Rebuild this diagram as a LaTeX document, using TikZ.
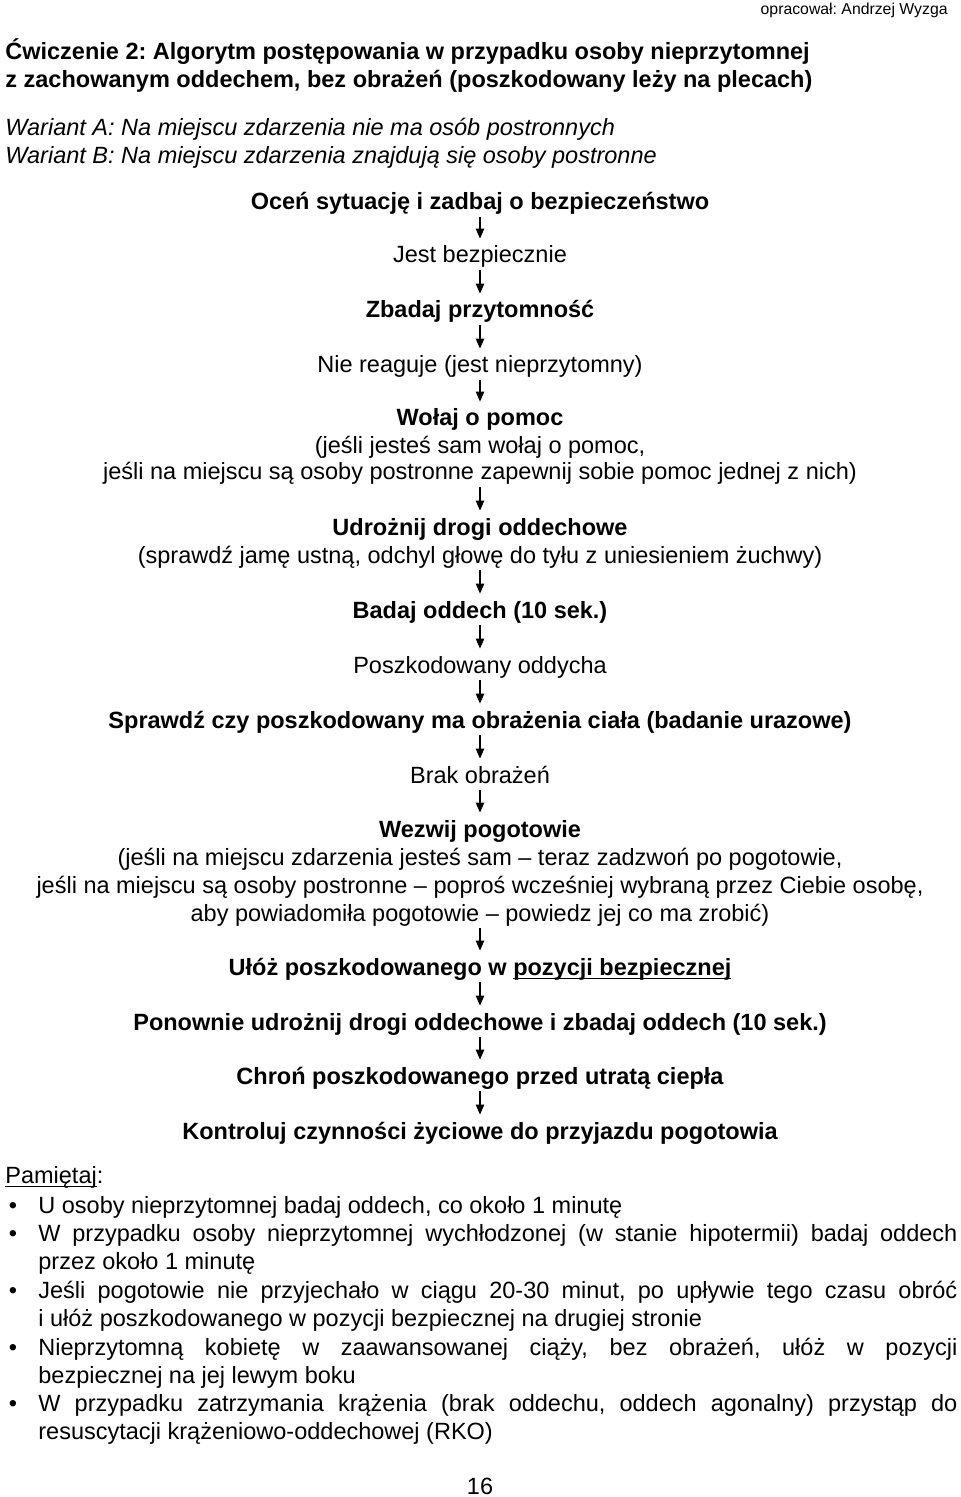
\documentclass[tikz,border=0pt]{standalone}
\usepackage{fontspec}
\setmainfont{Liberation Sans}
\usetikzlibrary{arrows.meta}
\hyphenpenalty=10000
\exhyphenpenalty=10000
\frenchspacing
\newcommand{\fsmain}{\fontsize{11.75pt}{14pt}\selectfont}
\newcommand{\fssmall}{\fontsize{7.9pt}{9.5pt}\selectfont}
\newcommand{\myul}[1]{\setbox0\hbox{#1}\rlap{\rule[-2.1pt]{\wd0}{0.6pt}}\box0}
\begin{document}
\begin{tikzpicture}[x=0.5pt,y=-0.5pt,
  every node/.style={inner sep=0pt, font=\fsmain},
  t/.style={anchor=base, text height=8.5pt, text depth=2pt},
  tb/.style={t, font=\fsmain\bfseries},
  lft/.style={anchor=base west},
  para/.style={anchor=north west, text width=459.5pt, align=justify},
  dot/.style={anchor=base},
  arr/.style={-{Triangle[length=5pt,width=4.2pt]}, line width=0.6pt, shorten <=1.5pt, shorten >=3.5pt}
]
\useasboundingbox[fill=white] (0,0) rectangle (960,1497);

% header
\node[anchor=base east, font=\fssmall] (auth) at (948,15) {opracował: Andrzej Wyzga};
\node[lft, font=\fsmain\bfseries] (ti1) at (5,60) {Ćwiczenie 2: Algorytm postępowania w przypadku osoby nieprzytomnej};
\node[lft, font=\fsmain\bfseries] (ti2) at (5,88) {z zachowanym oddechem, bez obrażeń (poszkodowany leży na plecach)};
\node[lft, font=\fsmain\itshape] (wa) at (5,136) {Wariant A: Na miejscu zdarzenia nie ma osób postronnych};
\node[lft, font=\fsmain\itshape] (wb) at (5,164) {Wariant B: Na miejscu zdarzenia znajdują się osoby postronne};

% flow
\node[tb] (n1) at (480,210) {Oceń sytuację i zadbaj o bezpieczeństwo};
\node[t]  (n2) at (480,263) {Jest bezpiecznie};
\node[tb] (n3) at (480,318) {Zbadaj przytomność};
\node[t]  (n4) at (480,373) {Nie reaguje (jest nieprzytomny)};
\node[tb] (n5) at (480,426) {Wołaj o pomoc};
\node[t]  (n5b) at (480,453) {(jeśli jesteś sam wołaj o pomoc,};
\node[t]  (n5c) at (480,480) {jeśli na miejscu są osoby postronne zapewnij sobie pomoc jednej z nich)};
\node[tb] (n6) at (480,535) {Udrożnij drogi oddechowe};
\node[t]  (n6b) at (480,563) {(sprawdź jamę ustną, odchyl głowę do tyłu z uniesieniem żuchwy)};
\node[tb] (n7) at (480,618) {Badaj oddech (10 sek.)};
\node[t]  (n8) at (480,673) {Poszkodowany oddycha};
\node[tb] (n9) at (480,728) {Sprawdź czy poszkodowany ma obrażenia ciała (badanie urazowe)};
\node[t]  (n10) at (480,783) {Brak obrażeń};
\node[tb] (n11) at (480,837) {Wezwij pogotowie};
\node[t]  (n11b) at (480,865) {(jeśli na miejscu zdarzenia jesteś sam – teraz zadzwoń po pogotowie,};
\node[t]  (n11c) at (480,893) {jeśli na miejscu są osoby postronne – poproś wcześniej wybraną przez Ciebie osobę,};
\node[t]  (n11d) at (480,921) {aby powiadomiła pogotowie – powiedz jej co ma zrobić)};
\node[tb] (n12) at (480,975) {Ułóż poszkodowanego w \myul{pozycji bezpiecznej}};
\node[tb] (n13) at (480,1030) {Ponownie udrożnij drogi oddechowe i zbadaj oddech (10 sek.)};
\node[tb] (n14) at (480,1084) {Chroń poszkodowanego przed utratą ciepła};
\node[tb] (n15) at (480,1139) {Kontroluj czynności życiowe do przyjazdu pogotowia};

\draw[arr] (n1.south) -- (n2.north);
\draw[arr] (n2.south) -- (n3.north);
\draw[arr] (n3.south) -- (n4.north);
\draw[arr] (n4.south) -- (n5.north);
\draw[arr] (n5c.south) -- (n6.north);
\draw[arr] (n6b.south) -- (n7.north);
\draw[arr] (n7.south) -- (n8.north);
\draw[arr] (n8.south) -- (n9.north);
\draw[arr] (n9.south) -- (n10.north);
\draw[arr] (n10.south) -- (n11.north);
\draw[arr] (n11d.south) -- (n12.north);
\draw[arr] (n12.south) -- (n13.north);
\draw[arr] (n13.south) -- (n14.north);
\draw[arr] (n14.south) -- (n15.north);

% remember
\node[lft] (pam) at (5,1183) {\myul{Pamiętaj}:};
\node[dot] (d1) at (13,1213) {•};
\node[para] (b1) at (38,1193.4) {\strut U osoby nieprzytomnej badaj oddech, co około 1 minutę};
\node[dot] (d2) at (13,1241) {•};
\node[para] (b2) at (38,1221.4) {\strut W przypadku osoby nieprzytomnej wychłodzonej (w stanie hipotermii) badaj oddech\linebreak przez około 1 minutę};
\node[dot] (d3) at (13,1298) {•};
\node[para] (b3) at (38,1278.4) {\strut Jeśli pogotowie nie przyjechało w ciągu 20-30 minut, po upływie tego czasu obróć\linebreak i ułóż poszkodowanego w pozycji bezpiecznej na drugiej stronie};
\node[dot] (d4) at (13,1355) {•};
\node[para] (b4) at (38,1335.4) {\strut Nieprzytomną kobietę w zaawansowanej ciąży, bez obrażeń, ułóż w pozycji\linebreak bezpiecznej na jej lewym boku};
\node[dot] (d5) at (13,1411) {•};
\node[para] (b5) at (38,1391.4) {\strut W przypadku zatrzymania krążenia (brak oddechu, oddech agonalny) przystąp do\linebreak resuscytacji krążeniowo-oddechowej (RKO)};

\node[t] (pg) at (480,1494) {16};
\end{tikzpicture}
\end{document}
